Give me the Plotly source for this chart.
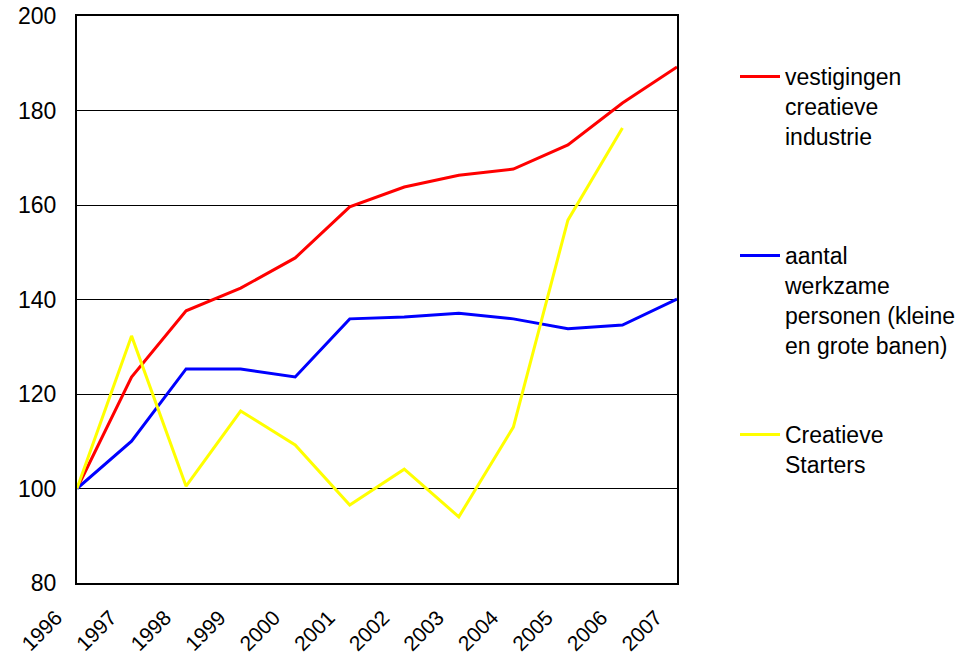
import plotly.graph_objects as go

years = [1996, 1997, 1998, 1999, 2000, 2001, 2002, 2003, 2004, 2005, 2006, 2007]
vestigingen = [100, 123.6, 137.6, 142.4, 148.8, 159.6, 163.8, 166.3, 167.6, 172.7, 181.6, 189.2]
werkzame = [100, 110.0, 125.3, 125.3, 123.6, 135.9, 136.3, 137.1, 135.9, 133.8, 134.6, 140.1]
starters = [100, 132.3, 100.5, 116.4, 109.2, 96.5, 104.1, 94.0, 113.0, 156.8, 176.3, None]

names = ["vestigingen<br>creatieve<br>industrie",
         "aantal<br>werkzame<br>personen (kleine<br>en grote banen)",
         "Creatieve<br>Starters"]
colors = ["#FF0000", "#0000FF", "#FFFF00"]
series = [vestigingen, werkzame, starters]
legends = ["legend", "legend2", "legend3"]

FONT = "Liberation Sans, Arial, sans-serif"
fig = go.Figure()
for s, n, c, lg in zip(series, names, colors, legends):
    fig.add_trace(go.Scatter(x=years, y=s, name=n, mode="lines",
                             line=dict(color=c, width=3), legend=lg))

W, H = 979, 659
L, R, T, B = 77, 302, 16, 76
pw, ph = W - L - R, H - T - B

def lx(px):
    return (px - L) / pw

def ly(py):
    return (H - B - py) / ph

common = dict(xanchor="left", yanchor="top", valign="top",
              bgcolor="rgba(0,0,0,0)", borderwidth=0, itemwidth=40,
              font=dict(family=FONT, size=23, color="black"))

fig.update_layout(
    width=W, height=H,
    margin=dict(l=L, r=R, t=T, b=B, autoexpand=False),
    paper_bgcolor="white", plot_bgcolor="white",
    font=dict(family=FONT, size=23, color="black"),
    showlegend=True,
    legend=dict(x=lx(735), y=ly(55), **common),
    legend2=dict(x=lx(735), y=ly(234), **common),
    legend3=dict(x=lx(735), y=ly(413), **common),
    xaxis=dict(range=[1996, 2007], tickmode="array", tickvals=years,
               ticktext=[str(y) for y in years], tickangle=-45,
               showgrid=False, zeroline=False, showline=True,
               linecolor="black", linewidth=2, mirror=True, ticks="",
               automargin=False, ticklabelstandoff=12, ticklabelshift=-21,
               ticklabeloverflow="allow",
               tickfont=dict(family=FONT, size=21)),
    yaxis=dict(range=[80, 200], dtick=20, tick0=80, showgrid=True,
               gridcolor="black", gridwidth=1, zeroline=False,
               showline=True, linecolor="black", linewidth=2, mirror=True,
               ticks="", ticklabelstandoff=14, automargin=False,
               ticklabeloverflow="allow",
               tickfont=dict(family=FONT, size=23)),
)

# remove the browser's default 8px body margin so the figure fills the window
fig.write_html("out.html", config={"displayModeBar": False},
               post_script="document.body.style.margin='0px';")
